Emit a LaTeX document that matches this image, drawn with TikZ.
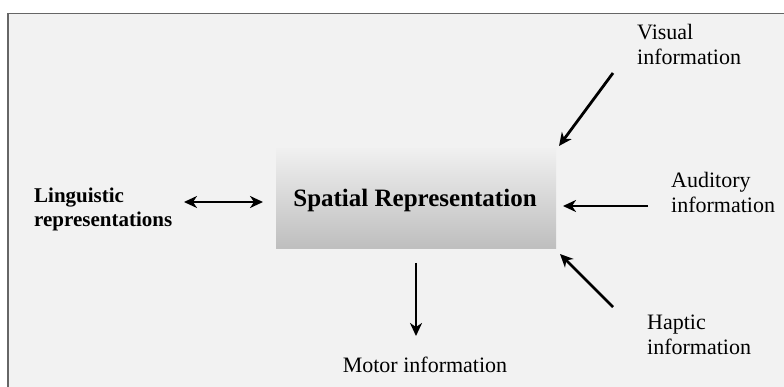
\documentclass[tikz,border=0pt]{standalone}
\usepackage{fontspec}
\setmainfont{Liberation Serif}
\usetikzlibrary{arrows.meta}
\definecolor{bg}{HTML}{F2F2F2}
\definecolor{frame}{HTML}{666666}
\definecolor{boxtop}{HTML}{F0F0F0}
\definecolor{boxbot}{HTML}{BEBEBE}
\tikzset{
  lbl/.style={font=\fontsize{22}{25}\selectfont, align=left, inner sep=0pt},
  blbl/.style={font=\fontsize{21}{24}\selectfont\bfseries, align=left, inner sep=0pt},
  tip/.tip={Stealth[length=13pt,width=12pt,inset=4pt]},
  arr/.style={line width=2.8pt, -tip},
  darr/.style={line width=2.8pt, tip-tip}
}
\begin{document}
\begin{tikzpicture}[x=1pt,y=-1pt]
\useasboundingbox (0,0) rectangle (784,387);
\fill[white] (0,0) rectangle (784,387);
\draw[frame, line width=1.5pt, fill=bg] (8,13.5) rectangle (800,400);
\node[draw=none, top color=boxtop, bottom color=boxbot, minimum width=280pt, minimum height=100pt, inner sep=0pt] (sr) at (416,199) {};
\node[font=\fontsize{25}{28}\selectfont\bfseries, inner sep=0pt] (srt) at (415,200) {Spatial Representation};
\node[blbl, anchor=west] (ling) at (34,209) {Linguistic\\representations};
\node[lbl, anchor=north west] (vis) at (637,24) {Visual\\information};
\node[lbl, anchor=west] (aud) at (671,192) {Auditory\\information};
\node[lbl, anchor=west] (hap) at (647,335) {Haptic\\information};
\node[lbl] (mot) at (425,365) {Motor information};
\coordinate (v1) at (613,73); \coordinate (v2) at (559,146);
\coordinate (a1) at (648,206); \coordinate (a2) at (563,206);
\coordinate (h1) at (613,307); \coordinate (h2) at (560,254);
\coordinate (m1) at (416,263); \coordinate (m2) at (416,336);
\coordinate (l1) at (184,202); \coordinate (l2) at (263,202);
\draw[arr] (v1) -- (v2);
\draw[arr] (a1) -- (a2);
\draw[arr] (h1) -- (h2);
\draw[arr] (m1) -- (m2);
\draw[darr] (l1) -- (l2);
\end{tikzpicture}
\end{document}
